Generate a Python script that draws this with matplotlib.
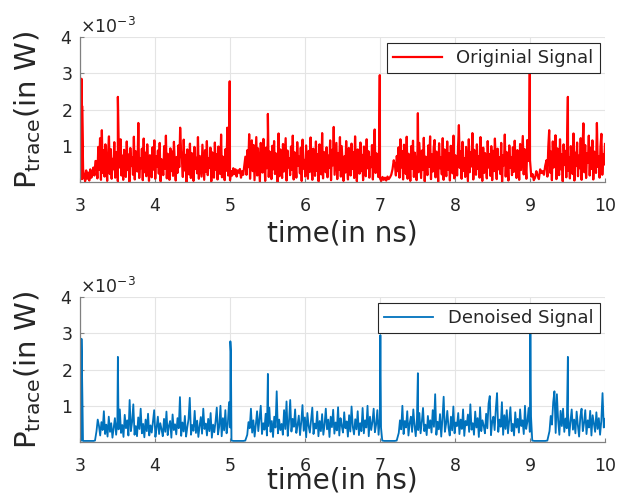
import numpy as np
import matplotlib
matplotlib.use('Agg')
import matplotlib.pyplot as plt
from matplotlib.ticker import ScalarFormatter

plt.rcParams['font.family'] = ['DejaVu Sans']
plt.rcParams['mathtext.default'] = 'regular'
plt.rcParams['axes.unicode_minus'] = False

# values in units of 1e-5 W
# segment edges (ns): quiet, burst, quiet, burst, ...
orig_edges = [3.0, 3.22, 5.0, 5.22, 7.0, 7.2, 9.0, 9.22, 10.0]
den_edges = [3.0, 3.22, 5.02, 5.23, 7.03, 7.25, 9.03, 9.26, 10.0]

orig_q1 = [30, 45, 8, 36, 14, 2, 32, 9, 26, 4, 35, 12, 22, 40, 18, 58]
orig_b1 = [58, 10, 97, 34, 121, 6, 143, 25, 88, 15,
           104, 47, 3, 79, 126, 22, 91, 9, 64, 35,
           110, 12, 83, 51, 2, 97, 40, 118, 18, 73,
           6, 89, 58, 14, 112, 33, 76, 1, 94, 44,
           68, 20, 125, 7, 85, 53, 29, 163, 11, 66,
           38, 92, 5, 120, 27, 81, 16, 104, 49, 3,
           74, 60, 13, 96, 34, 115, 9, 71, 42, 87,
           23, 108, 2, 63, 55, 19, 99, 37, 128, 10,
           78, 46, 6, 93, 30, 84, 17, 111, 52, 4,
           69, 25, 101, 41, 150, 86, 61, 14, 117, 32,
           75, 0, 90, 48, 21, 106, 11, 80, 57, 3,
           97, 36, 67, 24, 124, 9, 72, 43, 15, 103,
           54, 6, 88, 28, 113, 19, 65, 39, 95, 2,
           82, 50, 12, 109, 34, 77, 7, 98, 45, 22,
           131, 13, 70, 59, 5, 91, 31, 150, 18, 105]
orig_q2 = [5, 30, 18, 38, 22, 35, 15, 32, 26, 36, 12, 30, 20, 45, 70]
orig_b2 = [20, 88, 41, 132, 9, 76, 115, 30, 102, 5,
           67, 124, 18, 93, 44, 1, 108, 57, 26, 119,
           71, 3, 95, 38, 127, 14, 84, 62, 8, 100,
           35, 113, 22, 79, 48, 0, 134, 16, 90, 53,
           11, 105, 29, 74, 121, 4, 87, 40, 66, 19,
           98, 33, 128, 7, 82, 56, 12, 110, 45, 70,
           24, 95, 3, 117, 37, 61, 15, 101, 52, 9,
           86, 28, 123, 42, 6, 92, 68, 17, 112, 31,
           77, 2, 104, 49, 21, 135, 10, 83, 58, 27,
           96, 13, 73, 39, 115, 5, 89, 46, 152, 20,
           65, 108, 8, 80, 34, 124, 15, 99, 51, 3,
           71, 26, 113, 43, 7, 94, 60, 18, 106, 36,
           82, 11, 126, 47, 2, 90, 64, 23, 109, 30,
           75, 5, 98, 54, 16, 118, 38, 85, 12, 69,
           41, 102, 7, 88, 145, 25, 79, 57, 14, 96]
orig_q3 = [10, 3, 14, 6, 12, 4, 15, 8, 13, 20, 35, 60]
orig_b3 = [45, 18, 72, 30, 96, 12, 118, 40, 85, 7,
           103, 51, 22, 125, 9, 78, 64, 3, 99, 36,
           114, 14, 81, 47, 5, 92, 27, 108, 60, 11,
           87, 33, 122, 2, 70, 55, 19, 101, 42, 126,
           8, 76, 29, 95, 116, 13, 84, 50, 1, 107,
           38, 68, 21, 121, 6, 90, 57, 16, 112, 34,
           79, 4, 100, 45, 24, 128, 10, 74, 63, 18,
           93, 157, 39, 85, 9, 111, 31, 66, 14, 97,
           52, 2, 118, 27, 82, 43, 135, 7, 89, 59,
           20, 104, 36, 71, 12, 124, 48, 3, 95, 25,
           80, 61, 10, 113, 40, 77, 17, 99, 5, 86,
           30, 120, 53, 8, 92, 35, 68, 22, 108, 1,
           74, 46, 131, 15, 83, 57, 4, 101, 39, 69,
           19, 96, 28, 114, 50, 11, 88, 62, 6, 105,
           33, 78, 127, 21, 91, 44, 9, 116, 58, 84]
orig_q4 = [60, 15, 22, 5, 12, 30, 18, 8, 35, 25, 30, 20, 45]
orig_b4 = [60, 15, 98, 143, 26, 84, 5, 112, 40, 71,
           129, 8, 93, 52, 19, 118, 35, 77, 2, 104,
           47, 86, 13, 125, 31, 68, 10, 99, 57, 22,
           134, 4, 81, 44, 109, 16, 73, 38, 121, 6,
           90, 162, 27, 102, 11, 79, 53, 128, 18, 95,
           36, 115, 7, 84, 60, 25, 163, 42, 70, 12,
           98, 133, 20, 76, 48, 105]
orig_spike_t = [3.02, 3.028, 3.505, 4.996, 5.505, 6.997, 7.505, 8.997, 9.505]
orig_spike_v = [285, 210, 235, 278, 188, 295, 190, 305, 235]

den_q1 = [35, 4, 3, 3, 3, 3, 3, 3, 3, 3, 4]
den_b1 = [30, 62, 45, 18, 55, 33, 85, 22, 48, 15,
          70, 28, 52, 12, 40, 66, 20, 58, 35, 90,
          25, 47, 14, 75, 38, 60, 18, 116, 30, 55,
          104, 20, 44, 16, 68, 36, 92, 24, 50, 13,
          62, 30, 78, 18, 46, 26, 57, 88, 14, 40,
          70, 22, 52, 35, 16, 64, 28, 84, 19, 45,
          58, 12, 76, 33, 49, 21, 66, 38, 124, 17,
          54, 29, 72, 15, 41, 63, 122, 20, 47, 31,
          86, 25, 59, 14, 44, 69, 23, 92, 36, 51,
          18, 64, 30, 80, 12, 48, 27, 57, 95, 21,
          43, 100, 16, 66, 32, 88, 24, 50, 110, 40]
den_q2 = [4, 3, 3, 3, 3, 3, 3, 4]
den_b2 = [20, 55, 38, 92, 26, 60, 15, 48, 85, 30,
          66, 100, 22, 52, 34, 78, 18, 44, 95, 28,
          58, 14, 70, 40, 140, 24, 62, 33, 50, 20,
          88, 36, 112, 17, 56, 116, 29, 64, 42, 90,
          25, 47, 73, 19, 55, 102, 31, 68, 13, 80,
          44, 26, 60, 95, 22, 51, 37, 84, 16, 58,
          30, 77, 20, 48, 92, 35, 62, 14, 70, 41,
          89, 23, 54, 32, 96, 18, 66, 45, 26, 82,
          38, 57, 15, 74, 29, 98, 42, 21, 63, 35,
          85, 19, 52, 30, 94, 24, 60, 40, 100, 16,
          70, 33, 55, 92, 27, 48, 88, 20, 64, 40]
den_q3 = [4, 3, 3, 3, 3, 3, 3, 4]
den_b3 = [25, 60, 35, 100, 22, 58, 40, 85, 18, 52,
          70, 28, 90, 45, 16, 66, 33, 80, 24, 55,
          94, 30, 48, 19, 72, 38, 60, 26, 88, 42,
          132, 20, 56, 35, 77, 15, 64, 125, 28, 50,
          86, 40, 18, 70, 32, 98, 24, 54, 44, 80,
          22, 62, 36, 90, 17, 58, 46, 76, 28, 104,
          34, 52, 20, 84, 40, 66, 14, 96, 30, 60,
          45, 24, 78, 38, 106, 127, 19, 56, 70, 33,
          92, 135, 28, 62, 42, 110, 20, 74, 36, 88,
          24, 58, 96, 30, 50, 18, 82, 40, 64, 26,
          90, 44, 60, 22, 100, 36, 56, 94, 28, 70]
den_q4 = [4, 3, 3, 3, 3, 3, 3, 4]
den_b4 = [30, 72, 48, 110, 140, 25, 132, 60, 20, 86,
          44, 92, 28, 65, 38, 80, 18, 56, 90, 34,
          62, 24, 84, 46, 15, 70, 92, 30, 52, 88,
          22, 60, 40, 86, 18, 74, 50, 28, 82, 36,
          66, 20, 58, 135, 40, 64]
den_spike_t = [3.02, 3.026, 3.032, 3.505, 5.005, 5.012, 5.505, 7.005, 7.505, 9.005, 9.505]
den_spike_v = [285, 210, 125, 235, 278, 250, 188, 295, 190, 300, 235]


def build(edges, parts, spike_t, spike_v):
    ts, vs = [], []
    for k, vals in enumerate(parts):
        last = k == len(parts) - 1
        ts.append(np.linspace(edges[k], edges[k + 1], len(vals), endpoint=last))
        vs.append(np.array(vals, float))
    t = np.concatenate(ts + [np.array(spike_t)])
    v = np.concatenate(vs + [np.array(spike_v, float)])
    order = np.argsort(t, kind='stable')
    return t[order], v[order] * 1e-5


t_orig, p_orig = build(orig_edges,
                       [orig_q1, orig_b1, orig_q2, orig_b2, orig_q3, orig_b3, orig_q4, orig_b4],
                       orig_spike_t, orig_spike_v)
t_den, p_den = build(den_edges,
                     [den_q1, den_b1, den_q2, den_b2, den_q3, den_b3, den_q4, den_b4],
                     den_spike_t, den_spike_v)

txt = '#262626'
fig = plt.figure(figsize=(6.25, 4.98), dpi=100)
ax1 = fig.add_axes([0.128, 0.6345, 0.84, 0.291])
ax2 = fig.add_axes([0.128, 0.1124, 0.84, 0.291])


def style(ax, lab_y):
    ax.set_xlim(3, 10)
    ax.set_ylim(0, 4e-3)
    ax.set_xticks(range(3, 11))
    ax.set_yticks([1e-3, 2e-3, 3e-3, 4e-3])
    fmt = ScalarFormatter(useMathText=True)
    fmt.set_powerlimits((0, 0))
    ax.yaxis.set_major_formatter(fmt)
    ax.yaxis.get_offset_text().set_fontsize(12.5)
    ax.yaxis.get_offset_text().set_color(txt)
    ax.grid(True, color='#e4e4e4', lw=0.8)
    ax.set_axisbelow(True)
    for s in ['top', 'right']:
        ax.spines[s].set_visible(False)
    for s in ['left', 'bottom']:
        ax.spines[s].set_color('#808080')
        ax.spines[s].set_linewidth(0.9)
    ax.tick_params(axis='x', direction='in', length=3, color='#808080',
                   labelsize=12.5, labelcolor=txt, pad=11)
    ax.tick_params(axis='y', direction='in', length=3, color='#808080',
                   labelsize=12.5, labelcolor=txt, pad=5.5)
    ax.set_xlabel('time(in ns)', fontsize=20, color=txt)
    ax.xaxis.set_label_coords(0.5, lab_y)
    ax.set_ylabel('$P_{trace}$(in W)', fontsize=21, color=txt)
    ax.yaxis.set_label_coords(-0.07, 0.5)
    ax.legend(loc='upper right', fontsize=13, fancybox=False, framealpha=1,
              edgecolor=txt, borderaxespad=0.3, handlelength=2.7,
              borderpad=0.35, labelcolor=txt).get_frame().set_linewidth(0.8)


ax1.plot(t_orig, p_orig, color='#ff0000', lw=1.6, label='Originial Signal')
style(ax1, -0.262)
ax2.plot(t_den, p_den, color='#0072bd', lw=1.3, label='Denoised Signal')
style(ax2, -0.172)

fig.savefig('out.png', dpi=100)
